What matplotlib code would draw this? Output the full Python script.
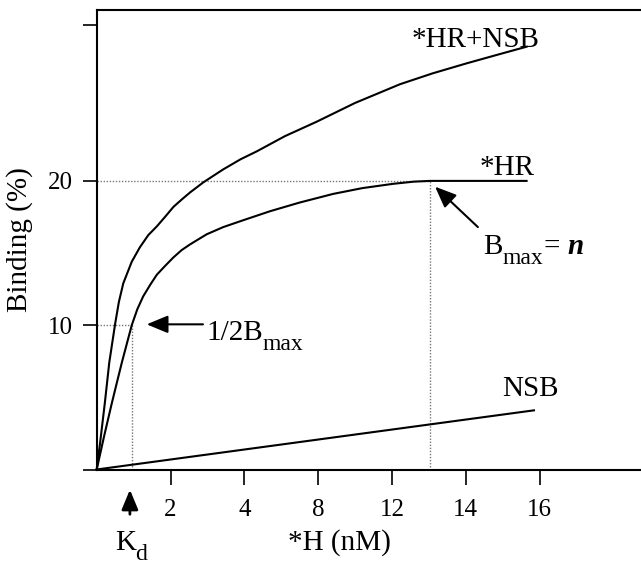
import matplotlib
matplotlib.use('Agg')
import matplotlib.pyplot as plt

plt.rcParams['font.family'] = 'Liberation Serif'

# x positions are in axis units; tick labels as printed in the figure
xtick_pos = [2, 4, 6, 8, 10, 12]
xtick_labels = ['2', '4', '8', '12', '14', '16']
ytick_pos = [0, 10, 20, 30.8]
ytick_labels = ['', '10', '20', '']

# *HR + NSB (total binding)
total_x = [0, 0.09, 0.22, 0.34, 0.50, 0.60, 0.72, 0.95, 1.17, 1.40, 1.63,
           1.85, 2.08, 2.30, 2.53, 2.89, 3.43, 3.9, 4.34, 5.1, 5.96, 7.0,
           8.22, 9.1, 10.03, 10.8, 11.65]
total_y = [0, 1.8, 4.6, 7.4, 10.1, 11.6, 12.9, 14.4, 15.4, 16.25, 16.85,
           17.5, 18.2, 18.7, 19.2, 19.9, 20.8, 21.5, 22.05, 23.1, 24.1, 25.4,
           26.7, 27.45, 28.15, 28.7, 29.3]

# *HR (specific binding)
hr_x = [0, 0.2, 0.41, 0.68, 0.95, 1.1, 1.26, 1.45, 1.63, 1.85, 2.08, 2.3,
        2.53, 2.98, 3.43, 4.0, 4.70, 5.5, 6.41, 7.2, 8.04, 8.6, 9.03, 11.65]
hr_y = [0, 2.3, 4.6, 7.4, 10.0, 11.1, 12.0, 12.8, 13.5, 14.1, 14.7, 15.2,
        15.6, 16.3, 16.8, 17.3, 17.9, 18.5, 19.1, 19.5, 19.8, 19.95, 20.0,
        20.0]

# NSB (non-specific binding)
nsb_x = [0, 11.85]
nsb_y = [0, 4.1]

kd = 0.95
bmax = 20
bmax_x = 9.03

fig = plt.figure(figsize=(6.41, 5.71), dpi=100)
ax = fig.add_axes([96.7 / 641, 101.5 / 571, 544.3 / 641, 459.5 / 571])
ax.set_xlim(0, 544.3 / 36.9)
ax.set_ylim(0, 459.5 / 14.43)

# dotted guide lines
dot = dict(color='#777777', lw=1, linestyles=(0, (1, 1.2)))
ax.hlines(bmax, 0, bmax_x, **dot)
ax.hlines(bmax / 2, 0, kd, **dot)
ax.vlines(kd, 0, bmax / 2, **dot)
ax.vlines(bmax_x, 0, bmax, **dot)

line = dict(color='black', lw=1.5, clip_on=False, solid_joinstyle='round')
ax.plot(total_x, total_y, **line)
ax.plot(hr_x, hr_y, **line)
ax.plot(nsb_x, nsb_y, **line)

fs = 21
sub = 17
ax.text(12.01, 29.28, '*HR+NSB', ha='right', va='baseline', fontsize=fs)
ax.text(11.88, 20.4, '*HR', ha='right', va='baseline', fontsize=fs)
ax.text(10.98, 5.09, 'NSB', ha='left', va='baseline', fontsize=fs)

ax.text(2.98, 8.97, '1/2B', ha='left', va='baseline', fontsize=fs)
ax.text(4.50, 8.28, 'max', ha='left', va='baseline', fontsize=sub)

ax.text(10.48, 14.93, 'B', ha='left', va='baseline', fontsize=fs)
ax.text(11.01, 14.24, 'max', ha='left', va='baseline', fontsize=sub)
ax.text(12.12, 14.93, '=', ha='left', va='baseline', fontsize=fs)
ax.text(12.75, 14.93, 'n', ha='left', va='baseline', fontsize=fs,
        style='italic', weight='bold')

ax.text(0.496, -5.58, 'K', ha='left', va='baseline', fontsize=fs)
ax.text(1.04, -6.27, 'd', ha='left', va='baseline', fontsize=sub)

arrow = dict(arrowstyle='-|>,head_length=0.65,head_width=0.27',
             mutation_scale=20, color='black', lw=1.5, shrinkA=0, shrinkB=0)
ax.annotate('', xy=(1.355, 10.06), xytext=(2.88, 10.06), arrowprops=arrow)
ax.annotate('', xy=(9.17, 19.6), xytext=(10.33, 16.8), arrowprops=arrow)
small = dict(arrow, arrowstyle='-|>,head_length=0.6,head_width=0.25', lw=2)
ax.annotate('', xy=(0.90, -1.4), xytext=(0.90, -3.1), arrowprops=small,
            annotation_clip=False)

ax.spines['right'].set_visible(False)
for s in ['left', 'top', 'bottom']:
    ax.spines[s].set_linewidth(1.5)

ax.set_xticks(xtick_pos)
ax.set_xticklabels(xtick_labels)
ax.set_yticks(ytick_pos)
ax.set_yticklabels(ytick_labels)
ax.tick_params(axis='x', direction='out', length=11, width=1.2, pad=10, labelsize=18)
ax.tick_params(axis='y', direction='out', length=10, width=1.2, pad=7, labelsize=18)

ax.set_xlabel('*H (nM)', fontsize=21)
ax.xaxis.label.set_va('baseline')
ax.xaxis.set_label_coords(0.446, -0.175)
ax.set_ylabel('Binding (%)', fontsize=21)
ax.yaxis.set_label_coords(-0.1165, 0.5)

fig.savefig('out.png', dpi=100)
